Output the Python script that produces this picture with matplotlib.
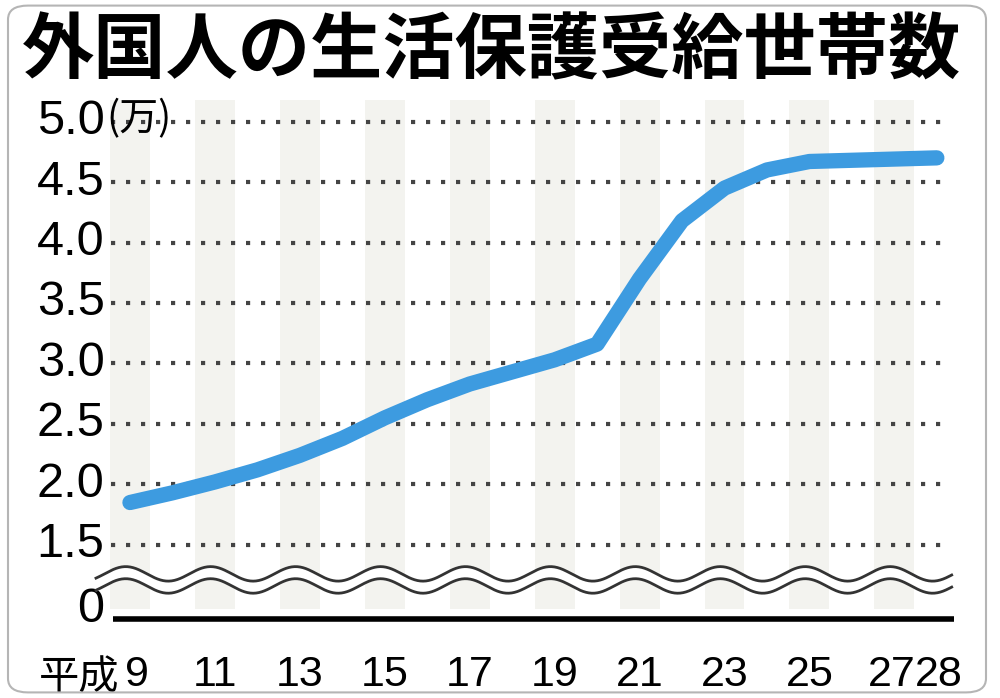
import matplotlib.pyplot as plt
import numpy as np
from matplotlib.patches import FancyBboxPatch

plt.rcParams["font.family"] = ["Noto Sans CJK JP", "DejaVu Sans"]

# 平成 years and households (万)
years = [9, 10, 11, 12, 13, 14, 15, 16, 17, 18, 19, 20, 21, 22, 23, 24, 25, 26, 27, 28]
households = [1.85, 1.93, 2.02, 2.12, 2.24, 2.38, 2.55, 2.70, 2.83, 2.93, 3.03, 3.16,
              3.70, 4.18, 4.45, 4.60, 4.67, 4.68, 4.69, 4.70]
y_ticks = [1.5, 2.0, 2.5, 3.0, 3.5, 4.0, 4.5, 5.0]
y_labels = ["1.5", "2.0", "2.5", "3.0", "3.5", "4.0", "4.5", "5.0"]
x_ticks = [11, 13, 15, 17, 19, 21, 23, 25, 27, 28]

ZERO_POS = 0.965  # where the "0" label sits on the broken axis
NUM_FONT = ["Liberation Sans", "DejaVu Sans"]

fig = plt.figure(figsize=(10, 6.98), dpi=100)
fig.patches.append(FancyBboxPatch((0.008, 0.008), 0.978, 0.984, boxstyle="round,pad=0,rounding_size=0.02",
                                  transform=fig.transFigure, fill=False, ec="#b5b5b5", lw=1.5))
ax = fig.add_axes([0.11, 0.112, 0.84, 0.745])
ax.set_xlim(8.53, 28.31)
ax.set_ylim(0.88, 5.18)
for s in ax.spines.values():
    s.set_visible(False)
ax.set_xticks([])
ax.set_yticks([])

# light vertical stripes at odd years
for yr in range(9, 29, 2):
    ax.axvspan(yr - 0.47, yr + 0.47, ymin=0.02, color="#f3f3ef", lw=0, zorder=0)

for v in y_ticks:
    ax.plot([8.55, 28.2], [v, v], ls=(0, (1, 2.6)), lw=3, color="#444444", zorder=1)

ax.plot(years, households, color="#3d9be0", lw=11, solid_capstyle="round",
        solid_joinstyle="round", zorder=3)

# axis break waves
xw = np.linspace(8.2, 28.35, 600)
wave = 0.06 * np.sin((xw - 8.4) * np.pi)
ax.fill_between(xw, 1.16 + wave, 1.26 + wave, color="white", zorder=4, clip_on=False)
ax.plot(xw, 1.16 + wave, color="#333333", lw=2, zorder=5, clip_on=False)
ax.plot(xw, 1.26 + wave, color="#333333", lw=2, zorder=5, clip_on=False)

ax.plot([8.6, 28.4], [0.885, 0.885], color="black", lw=4, zorder=5, clip_on=False, solid_capstyle="butt")

for v, lab in zip(y_ticks, y_labels):
    ax.text(8.4, v, lab, ha="right", va="center", fontsize=35, family=NUM_FONT)
ax.text(8.4, ZERO_POS, "0", ha="right", va="center", fontsize=35, family=NUM_FONT)
ax.text(8.45, 5.02, "(万)", ha="left", va="center", fontsize=28)

x_pos = [11, 13, 15, 17, 19, 21, 23, 25, 26.95, 28.05]
for xp, xt in zip(x_pos, x_ticks):
    ax.text(xp, 0.42, str(xt), ha="center", va="center", fontsize=31, family=NUM_FONT)
ax.text(9.45, 0.42, "9", ha="right", va="center", fontsize=31, family=NUM_FONT)
ax.text(8.75, 0.40, "平成", ha="right", va="center", fontsize=29)

fig.text(0.022, 0.925, "外国人の生活保護受給世帯数", ha="left", va="center", fontsize=52, fontweight="bold")

fig.savefig("out.png", dpi=100)
